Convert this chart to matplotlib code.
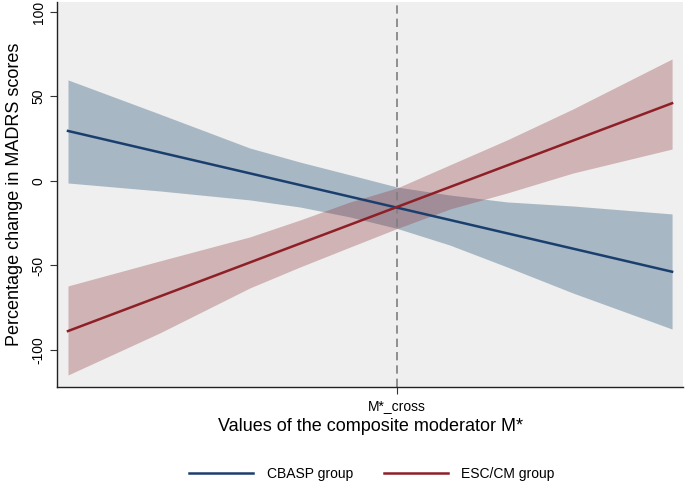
import matplotlib
matplotlib.use("Agg")
import matplotlib.pyplot as plt

plt.rcParams['font.family'] = ['Liberation Sans', 'DejaVu Sans']

# Moderator positions (0 = minimum, 1 = maximum of M*)
x_pts = [0.0, 0.152, 0.301, 0.384, 0.467, 0.545, 0.632, 0.727, 0.836, 1.0]
m_cross = 0.545

# Fitted lines (endpoints at x = 0 and x = 1)
line_x = [0.0, 1.0]
cbasp_line = [29.6, -53.7]
esc_line = [-88.8, 46.0]

# 95% confidence bands
cbasp_upper = [59.8, 39.6, 19.5, 11.2, 3.6, -3.6, -8.3, -12.4, -14.8, -19.5]
cbasp_lower = [-1.2, -5.9, -11.2, -15.4, -21.3, -28.1, -37.9, -50.9, -66.3, -87.6]
esc_upper = [-62.1, -47.3, -33.1, -23.1, -12.4, -4.1, 9.5, 24.3, 42.6, 72.2]
esc_lower = [-114.8, -89.9, -63.3, -50.9, -39.1, -28.1, -16.6, -7.1, 4.7, 18.9]

yticks = [-100, -50, 0, 50, 100]
xtick_labels = ["M*_cross"]
series_names = ["CBASP group", "ESC/CM group"]

blue = "#1a3f6e"
red = "#8e1f26"

fig = plt.figure(figsize=(6.85, 4.84), dpi=100)
ax = fig.add_axes([0.0839, 0.2004, 0.9131, 0.7955])
ax.set_facecolor("#efefef")

ax.fill_between(x_pts, cbasp_lower, cbasp_upper, color="#1a476f", alpha=0.33, linewidth=0)
ax.fill_between(x_pts, esc_lower, esc_upper, color="#90353b", alpha=0.32, linewidth=0)
ax.axvline(m_cross, color="#7f7f7f", linestyle=(0, (5, 3)), linewidth=1.2)
ax.plot(line_x, cbasp_line, color=blue, linewidth=1.8, label=series_names[0])
ax.plot(line_x, esc_line, color=red, linewidth=1.8, label=series_names[1])

ax.set_xlim(-0.0174, 1.018)
ax.set_ylim(-121.9, 105.9)
ax.set_yticks(yticks)
ax.set_yticklabels([str(v) for v in yticks], rotation=90, va="center", fontsize=10)
ax.set_xticks([m_cross])
ax.set_xticklabels(xtick_labels, fontsize=10)
ax.tick_params(axis="both", direction="out", length=5, width=0.8, color="#333333")
for s in ["top", "right"]:
    ax.spines[s].set_visible(False)
for s in ["left", "bottom"]:
    ax.spines[s].set_color("#222222")
    ax.spines[s].set_linewidth(1.0)

ax.set_ylabel("Percentage change in MADRS scores", fontsize=13, labelpad=6)
ax.set_xlabel("Values of the composite moderator M*", fontsize=13, labelpad=4)

fig.legend(loc="lower center", bbox_to_anchor=(0.543, -0.02), ncol=2, frameon=False,
           fontsize=10, handlelength=4.6, columnspacing=2.2, handletextpad=1.0)

fig.savefig("out.png", dpi=100)
